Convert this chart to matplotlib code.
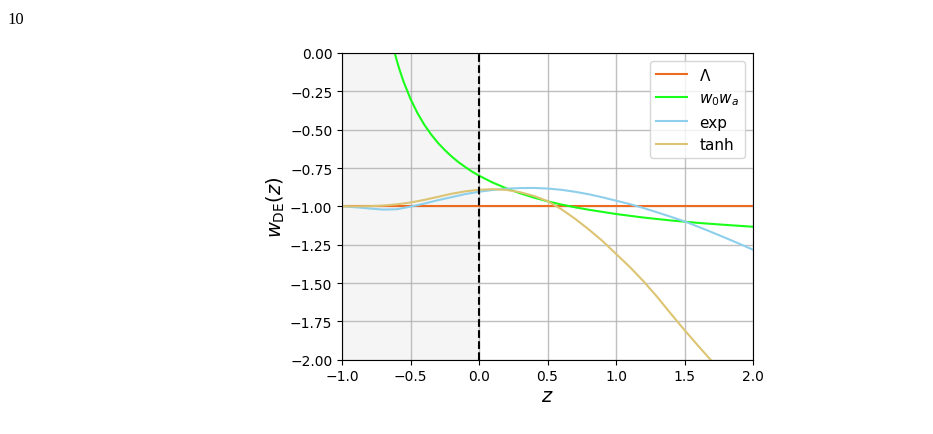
import numpy as np
import matplotlib
matplotlib.use("Agg")
import matplotlib.pyplot as plt

# redshift grid
z_grid = [-1.0, -0.9, -0.8, -0.7, -0.6, -0.5, -0.4, -0.3, -0.2, -0.1, 0.0,
          0.1, 0.2, 0.3, 0.4, 0.5, 0.6, 0.7, 0.8, 0.9, 1.0,
          1.1, 1.2, 1.3, 1.4, 1.5, 1.6, 1.7, 1.8, 1.9, 2.0]

w_lambda = [-1.0] * len(z_grid)

w_exp = [-1.000, -1.006, -1.014, -1.021, -1.019, -1.002, -0.982, -0.960, -0.940, -0.920, -0.905,
         -0.893, -0.885, -0.881, -0.880, -0.884, -0.892, -0.905, -0.921, -0.941, -0.963,
         -0.985, -1.011, -1.039, -1.068, -1.098, -1.133, -1.169, -1.206, -1.244, -1.283]

w_tanh = [-1.000, -1.000, -0.999, -0.995, -0.987, -0.975, -0.958, -0.938, -0.918, -0.902, -0.892,
          -0.888, -0.893, -0.908, -0.932, -0.966, -1.018, -1.080, -1.150, -1.225, -1.310,
          -1.395, -1.488, -1.590, -1.700, -1.807, -1.910, -2.010, -2.120, -2.230, -2.340]

# w0wa branch only enters the frame near z ~ -0.62
z_cpl = [-0.62, -0.6, -0.58, -0.55, -0.5, -0.45, -0.4, -0.35, -0.3, -0.25, -0.2, -0.15, -0.1, -0.05, 0.0,
         0.1, 0.2, 0.3, 0.4, 0.5, 0.6, 0.7, 0.8, 1.0, 1.2, 1.4, 1.6, 1.8, 2.0]
w_cpl = [0.016, -0.050, -0.110, -0.189, -0.300, -0.391, -0.467, -0.531, -0.586, -0.633, -0.675, -0.712,
         -0.744, -0.774, -0.800, -0.845, -0.883, -0.915, -0.943, -0.967, -0.988, -1.006, -1.022,
         -1.050, -1.073, -1.092, -1.108, -1.121, -1.133]

labels = [r"$\Lambda$", r"$w_0 w_a$", "exp", "tanh"]
colors = ["#ee6a1f", "#1aff1a", "#8ecfec", "#dcc472"]

fig = plt.figure(figsize=(9.33, 4.35), dpi=100)
ax = fig.add_axes([0.3666, 0.1708, 0.4405, 0.7051])

ax.axvspan(-1.0, 0.0, color="#f5f5f5", zorder=0)
ax.axvline(0.0, color="black", linestyle="--", linewidth=1.5, zorder=3)

ax.plot(z_grid, w_lambda, color=colors[0], linewidth=1.5, label=labels[0])
ax.plot(z_cpl, w_cpl, color=colors[1], linewidth=1.5, label=labels[1])
ax.plot(z_grid, w_exp, color=colors[2], linewidth=1.5, label=labels[2])
ax.plot(z_grid, w_tanh, color=colors[3], linewidth=1.5, label=labels[3])

ax.set_xlim(-1.0, 2.0)
ax.set_ylim(-2.0, 0.0)
ax.set_xticks(np.arange(-1.0, 2.01, 0.5))
ax.set_yticks(np.arange(-2.0, 0.01, 0.25))
ax.grid(True, color="#b0b0b0", linewidth=1.0, alpha=0.8)
ax.set_axisbelow(True)
ax.tick_params(labelsize=10)

ax.set_xlabel(r"$z$", fontsize=14, labelpad=2)
ax.set_ylabel(r"$w_{\rm DE}(z)$", fontsize=14, labelpad=2)

ax.legend(loc="upper right", fontsize=11)

fig.text(0.008, 0.955, "10", family="Liberation Serif", fontsize=12, ha="left", va="center")
fig.text(0.10, 0.006, r"Figure 1. The evolution of the DE equation of state $w_{\rm DE}(z)$ for the $\Lambda$, $w_0w_a$, exp and tanh models.",
         family="Liberation Serif", fontsize=11, fontweight="bold", ha="left", va="top")

fig.savefig("out.png", dpi=100)
